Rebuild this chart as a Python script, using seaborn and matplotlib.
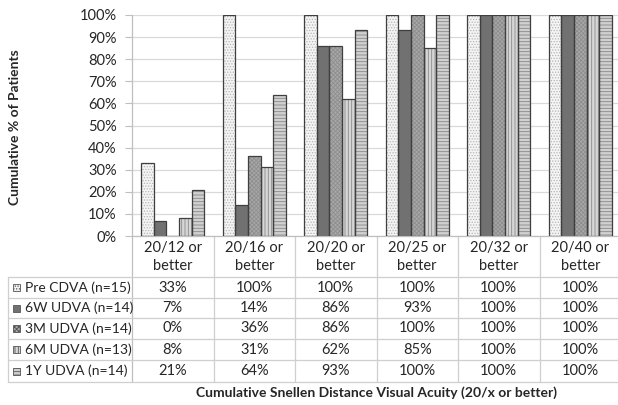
import numpy as np
import pandas as pd
import matplotlib
matplotlib.use("Agg")
import matplotlib.pyplot as plt
import matplotlib.transforms as mtransforms
from matplotlib.patches import Rectangle
from matplotlib.lines import Line2D
import seaborn as sns

# Cumulative % of patients reaching each Snellen level
categories = ["20/12 or better", "20/16 or better", "20/20 or better",
              "20/25 or better", "20/32 or better", "20/40 or better"]
groups = ["Pre CDVA (n=15)", "6W UDVA (n=14)", "3M UDVA (n=14)",
          "6M UDVA (n=13)", "1Y UDVA (n=14)"]
pre_cdva = [33, 100, 100, 100, 100, 100]
w6_udva = [7, 14, 86, 93, 100, 100]
m3_udva = [0, 36, 86, 100, 100, 100]
m6_udva = [8, 31, 62, 85, 100, 100]
y1_udva = [21, 64, 93, 100, 100, 100]
y_ticks = [0, 10, 20, 30, 40, 50, 60, 70, 80, 90, 100]

series = [pre_cdva, w6_udva, m3_udva, m6_udva, y1_udva]
df = pd.DataFrame({
    "level": np.repeat([categories], len(groups), axis=0).ravel(),
    "group": np.repeat(groups, len(categories)),
    "pct": np.concatenate(series),
})

# grayscale fills + hatches, like the Excel print version
faces = ["#f4f4f4", "#717171", "#a8a8a8", "#d6d6d6", "#d0d0d0"]
hatches = ["......", "", "xxxxxxxx", "|||||", "-----"]
hatch_cols = ["#b5b5b5", "#717171", "#8e8e8e", "#8a8a8a", "#888888"]
outline = "#3f3f3f"
grid_col = "#d9d9d9"
line_col = "#cfcfcf"
fs = 10.5

sns.set_style("white")
plt.rcParams["font.family"] = ["Lato", "DejaVu Sans"]
plt.rcParams["hatch.linewidth"] = 0.6

W, H = 618, 405
fig = plt.figure(figsize=(W / 100, H / 100), dpi=100)
ax = fig.add_axes([132 / W, 1 - 236 / H, (621 - 132) / W, (236 - 15) / H])

sns.barplot(data=df, x="level", y="pct", hue="group", order=categories,
            hue_order=groups, palette=faces, width=0.77, errorbar=None,
            legend=False, ax=ax)

for i, cont in enumerate(ax.containers):
    for p in cont:
        p.set_hatch(hatches[i])
        p.set_edgecolor(hatch_cols[i])
        p.set_linewidth(0)
        ax.add_patch(Rectangle(p.get_xy(), p.get_width(), p.get_height(),
                               fill=False, ec=outline, lw=0.9, zorder=3))

ax.set_xlim(-0.5, 5.5)
ax.set_ylim(0, 100)
ax.set_yticks(y_ticks)
ax.set_yticklabels([f"{v}%" for v in y_ticks], fontsize=fs)
ax.set_xticks([])
ax.set_xlabel("")
ax.set_ylabel("")
ax.yaxis.grid(True, color=grid_col, lw=0.9)
ax.set_axisbelow(True)
ax.tick_params(axis="y", length=5, color="#bfbfbf", pad=6, left=True)
sns.despine(ax=ax, top=True, right=True)
for s in ["left", "bottom"]:
    ax.spines[s].set_color("#bfbfbf")
    ax.spines[s].set_linewidth(0.9)


def fy(px):
    return 1 - px / H


trans = mtransforms.blended_transform_factory(ax.transData, fig.transFigure)

# data table under the chart
row_lines = [277, 298, 318, 339, 360, 382]
for y in row_lines:
    fig.add_artist(Line2D([8 / W, 1], [fy(y), fy(y)], color=line_col, lw=0.9))
fig.add_artist(Line2D([8 / W, 8 / W], [fy(277), fy(382)], color=line_col, lw=0.9))
for k in range(len(categories) + 1):
    ax.add_line(Line2D([k - 0.5, k - 0.5], [fy(236), fy(382)], transform=trans,
                       color=line_col if k else "#bfbfbf", lw=0.9, clip_on=False))

for i, cat in enumerate(categories):
    top, bottom = cat.rsplit(" ", 1)
    ax.text(i, fy(248), top, transform=trans, ha="center", va="center", fontsize=fs)
    ax.text(i, fy(266), bottom, transform=trans, ha="center", va="center", fontsize=fs)

for r, (name, vals) in enumerate(zip(groups, series)):
    yc = (row_lines[r] + row_lines[r + 1]) / 2
    fig.add_artist(Rectangle((13 / W, fy(yc + 3.5)), 7 / W, 7 / H,
                             facecolor=faces[r], hatch=hatches[r],
                             edgecolor="#555555", lw=0.6))
    fig.text(25 / W, fy(yc), name, ha="left", va="center", fontsize=10)
    for i, v in enumerate(vals):
        ax.text(i, fy(yc), f"{v}%", transform=trans, ha="center", va="center",
                fontsize=fs)

fig.text(15 / W, fy(127), "Cumulative % of Patients", rotation=90,
         ha="center", va="center", fontsize=10, fontweight="bold")
fig.text(377 / W, fy(393), "Cumulative Snellen Distance Visual Acuity (20/x or better)",
         ha="center", va="center", fontsize=10, fontweight="bold")

fig.savefig("out.png", dpi=100)
